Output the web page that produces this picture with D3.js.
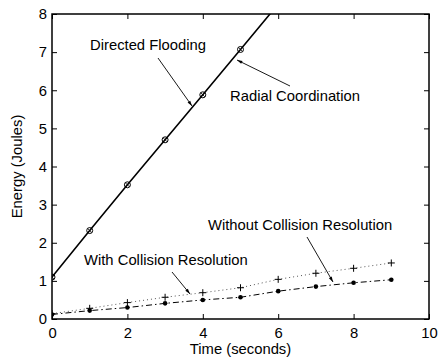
<!DOCTYPE html>
<html>
<head>
<meta charset="utf-8">
<script src="https://cdn.jsdelivr.net/npm/d3@7"></script>
<style>
  body { margin: 0; background: #fff; }
  svg { font-family: "Liberation Sans", Arial, sans-serif; }
</style>
</head>
<body>
<svg id="chart" width="439" height="360"></svg>
<script>
// time axis (seconds)
const times = [0, 1, 2, 3, 4, 5, 6, 7, 8, 9];
// energy series (Joules)
const directedFlooding = [1.1, 2.32, 3.52, 4.7, 5.88, 7.07, 8.26, 9.45, 10.64, 11.83];
const radialCoordination = [1.1, 2.32, 3.52, 4.7, 5.88, 7.07, 8.26, 9.45, 10.64, 11.83];
const withoutCollision = [0.14, 0.28, 0.43, 0.57, 0.69, 0.82, 1.04, 1.2, 1.33, 1.47];
const withCollision = [0.12, 0.22, 0.3, 0.41, 0.5, 0.57, 0.73, 0.85, 0.95, 1.03];
const xTicks = [0, 2, 4, 6, 8, 10];
const yTicks = [0, 1, 2, 3, 4, 5, 6, 7, 8];

const margin = { top: 14, right: 10, bottom: 41, left: 52 };
const width = 439;
const height = 360;
const innerW = width - margin.left - margin.right;
const innerH = height - margin.top - margin.bottom;
const fontSize = 14.8;

const svg = d3.select('#chart');
const g = svg.append('g')
  .attr('transform', `translate(${margin.left},${margin.top})`);

const x = d3.scaleLinear().domain([0, 10]).range([0, innerW]);
const y = d3.scaleLinear().domain([0, 8]).range([innerH, 0]);

svg.append('defs').append('clipPath').attr('id', 'clip')
  .append('rect').attr('width', innerW).attr('height', innerH);

// axes with inward ticks on all four sides
const styleAxis = (sel) => {
  sel.select('.domain').remove();
  sel.selectAll('line').attr('stroke', '#000').attr('stroke-width', 1);
  sel.selectAll('text').attr('font-size', fontSize).attr('fill', '#000');
};
g.append('g').attr('transform', `translate(0,${innerH})`)
  .call(d3.axisBottom(x).tickValues(xTicks).tickSizeInner(-5).tickPadding(8))
  .call(styleAxis);
g.append('g')
  .call(d3.axisTop(x).tickValues(xTicks).tickSizeInner(-5).tickFormat(''))
  .call(styleAxis);
g.append('g')
  .call(d3.axisLeft(y).tickValues(yTicks).tickSizeInner(-5).tickPadding(5))
  .call(styleAxis);
g.append('g').attr('transform', `translate(${innerW},0)`)
  .call(d3.axisRight(y).tickValues(yTicks).tickSizeInner(-5).tickFormat(''))
  .call(styleAxis);

g.append('rect')
  .attr('width', innerW).attr('height', innerH)
  .attr('fill', 'none').attr('stroke', '#000').attr('stroke-width', 1.5);

const plot = g.append('g').attr('clip-path', 'url(#clip)');
const line = d3.line().x((d, i) => x(times[i])).y(d => y(d));

// Directed Flooding: solid line
plot.append('path').datum(directedFlooding)
  .attr('d', line).attr('fill', 'none').attr('stroke', '#000').attr('stroke-width', 1.6);
// Radial Coordination: circles with crosses
const rc = plot.selectAll('g.rc').data(radialCoordination).enter().append('g')
  .attr('transform', (d, i) => `translate(${x(times[i])},${y(d)})`);
rc.append('circle').attr('r', 3).attr('fill', 'none').attr('stroke', '#000').attr('stroke-width', 1);
rc.append('path').attr('d', 'M-2,-2L2,2M-2,2L2,-2').attr('stroke', '#000').attr('stroke-width', 0.8);

// Without Collision Resolution: dotted with plus markers
plot.append('path').datum(withoutCollision)
  .attr('d', line).attr('fill', 'none').attr('stroke', '#555').attr('stroke-width', 1)
  .attr('stroke-dasharray', '1,3');
plot.selectAll('path.plus').data(withoutCollision).enter().append('path')
  .attr('class', 'plus')
  .attr('transform', (d, i) => `translate(${x(times[i])},${y(d)})`)
  .attr('d', 'M-3.5,0H3.5M0,-3.5V3.5').attr('stroke', '#000').attr('stroke-width', 1);

// With Collision Resolution: dash-dot with filled dots
plot.append('path').datum(withCollision)
  .attr('d', line).attr('fill', 'none').attr('stroke', '#000').attr('stroke-width', 1)
  .attr('stroke-dasharray', '6,3,1.5,3');
plot.selectAll('circle.dot').data(withCollision).enter().append('circle')
  .attr('class', 'dot')
  .attr('cx', (d, i) => x(times[i])).attr('cy', d => y(d))
  .attr('r', 2.3).attr('fill', '#000');

// annotations
const defs = svg.select('defs');
defs.append('marker').attr('id', 'arrow')
  .attr('viewBox', '0 0 10 10').attr('refX', 10).attr('refY', 5)
  .attr('markerWidth', 8).attr('markerHeight', 6).attr('orient', 'auto')
  .append('path').attr('d', 'M0,2L10,5L0,8z').attr('fill', '#000');

const notes = [
  { text: 'Directed Flooding', tx: 90, ty: 50, from: [158, 58], to: [192, 106] },
  { text: 'Radial Coordination', tx: 230, ty: 101, from: [290, 86], to: [237, 60] },
  { text: 'Without Collision Resolution', tx: 208, ty: 230, from: [307, 237], to: [333, 282] },
  { text: 'With Collision Resolution', tx: 84, ty: 265, from: [172, 272], to: [190, 294] },
];
notes.forEach((n) => {
  svg.append('text').attr('x', n.tx).attr('y', n.ty)
    .attr('font-size', fontSize).attr('fill', '#000').text(n.text);
  svg.append('line')
    .attr('x1', n.from[0]).attr('y1', n.from[1]).attr('x2', n.to[0]).attr('y2', n.to[1])
    .attr('stroke', '#000').attr('stroke-width', 0.9).attr('marker-end', 'url(#arrow)');
});

// axis titles
svg.append('text').attr('x', margin.left + innerW / 2).attr('y', 354)
  .attr('text-anchor', 'middle').attr('font-size', fontSize).text('Time (seconds)');
svg.append('text')
  .attr('transform', `translate(22,${margin.top + innerH / 2}) rotate(-90)`)
  .attr('text-anchor', 'middle').attr('font-size', fontSize).text('Energy (Joules)');
</script>
</body>
</html>
